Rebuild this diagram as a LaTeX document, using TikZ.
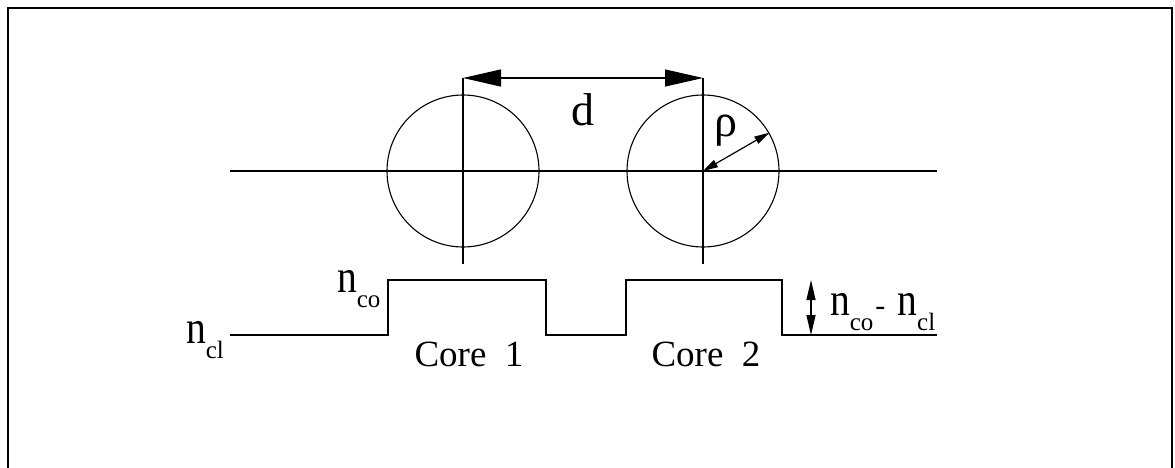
\documentclass[tikz,border=0pt]{standalone}
\usepackage{fontspec}
\setmainfont{Liberation Serif}
\usetikzlibrary{arrows.meta}
\newcommand\nbig{\scalebox{1.1}[1.3]{\fontsize{36}{36}\selectfont n}}
\newcommand\nsubs[1]{\nbig\raisebox{-15pt}{\fontsize{25}{25}\selectfont #1}}
\tikzset{
  line/.style={line width=1.2pt},
  bigtip/.style={{Triangle[length=38pt,width=17pt]}-{Triangle[length=38pt,width=17pt]}},
  smalltip/.style={{Triangle[length=20pt,width=9pt]}-{Triangle[length=20pt,width=9pt]}},
  rhotip/.style={{Triangle[length=15pt,width=8pt]}-{Triangle[length=15pt,width=8pt]}},
  lbl/.style={inner sep=0pt, outer sep=0pt},
  core/.style={circle, draw, line width=1.1pt, minimum size=152pt, inner sep=0pt}
}
\begin{document}
\begin{tikzpicture}[x=1pt,y=-1pt]
\useasboundingbox (0,0) rectangle (1175,468);
% frame
\coordinate (fBL) at (8,468);
\coordinate (fTL) at (8,8);
\coordinate (fTR) at (1172,8);
\coordinate (fBR) at (1172,468);
\draw[line width=1.8pt] (fBL) -- (fTL) -- (fTR) -- (fBR);
% axis
\coordinate (axL) at (230,171);
\coordinate (axR) at (937,171);
\draw[line] (axL) -- (axR);
% circles
\node[core] (C1) at (463,171) {};
\node[core] (C2) at (703,171) {};
% vertical center lines
\coordinate (v1t) at (463,78);
\coordinate (v1b) at (463,264);
\coordinate (v2t) at (703,78);
\coordinate (v2b) at (703,264);
\draw[line] (v1t) -- (v1b);
\draw[line] (v2t) -- (v2b);
% d arrow
\draw[line, bigtip] (v1t) -- (v2t);
\node[lbl, anchor=base] (d) at (583,125) {\fontsize{46}{46}\selectfont d};
% rho arrow
\draw[line, rhotip] (C2.center) -- (C2.30);
\node[lbl, anchor=base] (rho) at (726,137) {\fontsize{46}{46}\selectfont ρ};
% index profile
\coordinate (p0) at (230,335);
\coordinate (p1) at (388,335);
\coordinate (p2) at (388,280);
\coordinate (p3) at (546,280);
\coordinate (p4) at (546,335);
\coordinate (p5) at (626,335);
\coordinate (p6) at (626,280);
\coordinate (p7) at (782,280);
\coordinate (p8) at (782,335);
\coordinate (p9) at (937,335);
\draw[line] (p0) -- (p1) -- (p2) -- (p3) -- (p4) -- (p5) -- (p6) -- (p7) -- (p8) -- (p9);
% delta n arrow
\coordinate (a1) at (811,280);
\coordinate (a2) at (811,335);
\draw[line, smalltip] (a1) -- (a2);
% labels
\node[lbl, anchor=base west] (ncl) at (186,343) {\nsubs{cl}};
\node[lbl, anchor=base west] (nco) at (337,292) {\nsubs{co}};
\node[lbl, anchor=base west] (dn) at (830,315) {\nsubs{co}\hspace{2pt}{\fontsize{30}{30}\selectfont -}\hspace{12pt}\nsubs{cl}};
\node[lbl, anchor=base] (core1) at (469,366) {\fontsize{37}{37}\selectfont Core\ \ 1};
\node[lbl, anchor=base] (core2) at (706,366) {\fontsize{37}{37}\selectfont Core\ \ 2};
\end{tikzpicture}
\end{document}
